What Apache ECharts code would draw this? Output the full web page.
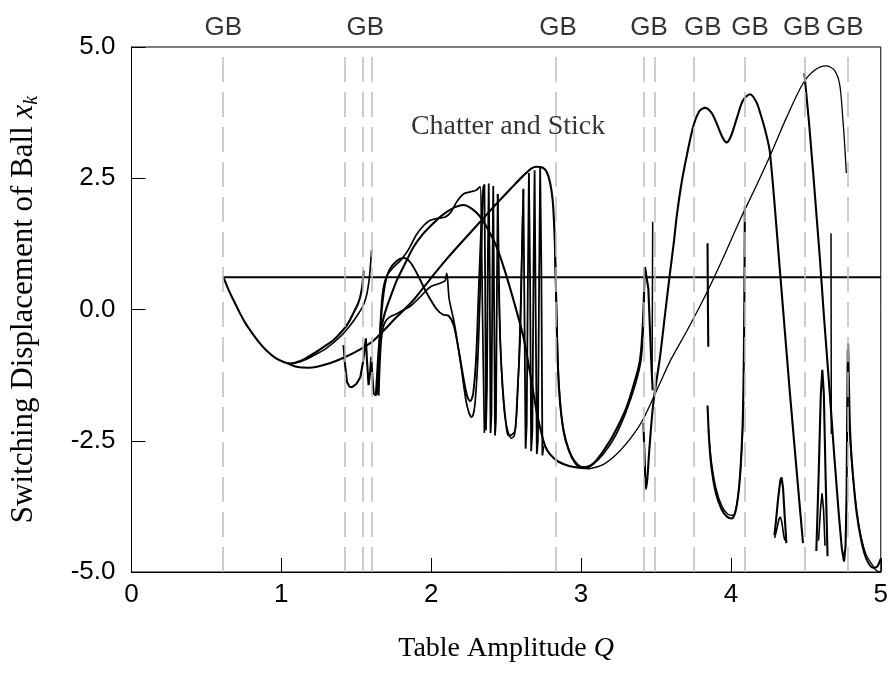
<!DOCTYPE html>
<html>
<head>
<meta charset="utf-8">
<script src="https://cdn.jsdelivr.net/npm/echarts@6/dist/echarts.min.js"></script>
<style>html,body{margin:0;padding:0;background:#fff}#c{width:891px;height:673px}</style>
</head>
<body>
<div id="c"></div>
<script>
// ---------- data ----------
const gbLineQ = [0.613, 1.415, 1.54, 1.602, 2.831, 3.418, 3.489, 3.751, 4.095, 4.491, 4.782];
const gbLabelQ = [0.613, 1.56, 2.847, 3.453, 3.813, 4.127, 4.473, 4.76];
const gbLabelText = 'GB';
const annotationText = 'Chatter and Stick';
const annotationPos = [2.513, 3.48];
const xTitle = 'Table Amplitude ';
const xTitleVar = 'Q';
const yTitle = 'Switching Displacement of Ball ';
const yTitleVar = 'x';
const yTitleSub = 'k';

const stickLine = [[0.613,0.616],[5.0,0.616]];
const parabolaUpperA = [[0.613,0.616],[0.65,0.36],[0.682,0.17],[0.72,-0.05],[0.76,-0.26],[0.793,-0.4],[0.85,-0.62],[0.904,-0.79],[0.96,-0.92],[1.016,-1.0],[1.06,-1.03],[1.127,-0.98],[1.18,-0.9],[1.238,-0.8],[1.3,-0.68],[1.349,-0.58],[1.415,-0.38],[1.45,-0.24],[1.482,-0.06],[1.51,0.1],[1.527,0.25],[1.54,0.45],[1.549,0.74]];
const parabolaUpperB = [[1.06,-1.03],[1.13,-0.99],[1.2,-0.9],[1.3,-0.74],[1.4,-0.5],[1.46,-0.3],[1.51,-0.1],[1.55,0.1],[1.571,0.3],[1.585,0.55],[1.595,0.85],[1.602,1.13]];
const mainBranch = [[1.04,-1.02],[1.1,-1.09],[1.18,-1.11],[1.238,-1.09],[1.327,-1.02],[1.415,-0.92],[1.52,-0.77],[1.616,-0.59],[1.771,-0.14],[1.882,0.18],[1.993,0.58],[2.1,0.95],[2.215,1.32],[2.33,1.68],[2.437,2.02],[2.53,2.3],[2.615,2.55],[2.67,2.69],[2.704,2.72],[2.745,2.7],[2.771,2.62],[2.793,2.42],[2.81,2.1],[2.82,1.64],[2.828,1.0],[2.834,0.2],[2.842,-0.8],[2.855,-1.6],[2.882,-2.3],[2.92,-2.7],[2.96,-2.92],[3.0,-3.0],[3.03,-3.0],[3.1,-2.88],[3.193,-2.5],[3.25,-2.2],[3.304,-1.86],[3.36,-1.35],[3.393,-0.97],[3.412,-0.3],[3.425,0.81]];
const mainBranchTwin = [[2.826,1.1],[2.832,0.4],[2.84,-0.5],[2.85,-1.3],[2.868,-2.0],[2.895,-2.45],[2.935,-2.78],[2.98,-2.96],[3.03,-3.02],[3.08,-2.95],[3.15,-2.75],[3.23,-2.4],[3.3,-1.95],[3.36,-1.45],[3.398,-1.0],[3.415,-0.4],[3.422,0.5]];
const impactSpikes1 = [[1.415,-0.68],[1.425,-1.05],[1.438,-1.38],[1.455,-1.47],[1.471,-1.48],[1.5,-1.42],[1.527,-1.29],[1.545,-1.0],[1.564,-0.55],[1.572,-1.0],[1.582,-1.44],[1.592,-1.2],[1.6,-0.9],[1.608,-1.3],[1.616,-1.6],[1.631,-1.64]];
const arcSmooth = [[1.631,-1.64],[1.64,-1.2],[1.65,-0.75],[1.66,-0.46],[1.68,-0.18],[1.704,0.05],[1.74,0.33],[1.771,0.56],[1.83,0.9],[1.882,1.19],[1.94,1.42],[1.993,1.58],[2.05,1.74],[2.104,1.86],[2.16,1.95],[2.216,1.99],[2.27,1.92],[2.326,1.77],[2.38,1.52],[2.437,1.19],[2.49,0.75],[2.549,0.18],[2.615,-0.52],[2.66,-1.22],[2.704,-1.95],[2.735,-2.35],[2.76,-2.6],[2.793,-2.76],[2.85,-2.9],[2.92,-2.98],[3.0,-3.02],[3.06,-3.03]];
const arcThin = [[3.06,-3.03],[3.15,-2.95],[3.25,-2.72],[3.35,-2.38],[3.416,-2.08],[3.527,-1.4],[3.6,-0.95],[3.704,-0.42],[3.837,0.31],[3.93,0.87],[4.06,1.70],[4.16,2.3],[4.26,2.92],[4.37,3.65],[4.48,4.3],[4.56,4.56],[4.636,4.64],[4.69,4.56],[4.725,4.3],[4.745,3.7],[4.76,3.1],[4.77,2.6]];
const arcWiggly = [[1.64,-1.62],[1.648,-1.0],[1.66,-0.3],[1.675,0.3],[1.7,0.62],[1.74,0.78],[1.8,0.95],[1.85,1.15],[1.9,1.42],[1.95,1.6],[1.993,1.7],[2.05,1.74],[2.093,1.76],[2.13,1.85],[2.17,2.05],[2.215,2.2],[2.26,2.24],[2.3,2.27],[2.326,2.34],[2.335,1.5],[2.342,0],[2.35,-1.5],[2.355,-2.35]];
const arcBump = [[1.645,-1.62],[1.652,-1.0],[1.665,-0.2],[1.69,0.45],[1.72,0.75],[1.771,0.93],[1.816,0.98],[1.86,0.9],[1.904,0.69],[1.971,0.31],[2.038,0.0],[2.08,-0.1],[2.116,-0.12],[2.15,-0.3],[2.185,-0.8],[2.215,-1.3],[2.24,-1.65],[2.26,-1.75],[2.28,-1.6],[2.3,-0.9],[2.315,0.2],[2.33,1.3],[2.345,2.2],[2.355,2.38]];
const arcLowS = [[1.65,-1.64],[1.658,-1.0],[1.67,-0.5],[1.69,-0.25],[1.72,-0.15],[1.771,-0.08],[1.82,0.0],[1.86,0.06],[1.927,0.24],[1.993,0.43],[2.06,0.5],[2.093,0.55],[2.104,0.69],[2.12,0.2],[2.15,-0.2],[2.171,-0.55],[2.2,-1.1],[2.23,-1.7],[2.25,-1.95],[2.27,-2.05],[2.29,-1.85],[2.31,-1.0],[2.325,0.2],[2.338,1.5],[2.348,2.35]];
const denseSpikes1 = [[2.355,2.38],[2.36,0.5],[2.365,-2.3],[2.372,-1.5],[2.378,1.0],[2.384,2.4],[2.39,0.8],[2.396,-2.35],[2.402,-2.0],[2.408,0.5],[2.414,2.35],[2.42,0.0],[2.426,-2.4],[2.432,-2.1],[2.438,0.2],[2.444,2.2]];
const valleyA = [[2.444,2.2],[2.45,1.0],[2.46,-0.59],[2.48,-1.6],[2.5,-2.2],[2.515,-2.4],[2.54,-2.38],[2.56,-2.3],[2.575,-1.6],[2.593,-0.59],[2.605,1.0],[2.615,2.28]];
const valleyB = [[2.45,0.5],[2.47,-1.2],[2.49,-2.0],[2.51,-2.3],[2.535,-2.45],[2.555,-2.4],[2.57,-2.0],[2.585,-1.0],[2.6,0.5],[2.61,1.8]];
const denseSpikes2 = [[2.615,2.3],[2.622,0],[2.63,-2.65],[2.637,-2.2],[2.645,0.5],[2.652,2.6],[2.66,0.5],[2.667,-2.7],[2.675,-2.3],[2.683,0.8],[2.69,2.65],[2.697,0],[2.705,-2.75],[2.712,-2.5],[2.72,0.5],[2.727,2.7],[2.735,0.8],[2.742,-2.78],[2.75,-2.6]];
const stubA = [[3.427,0.81],[3.438,0.6],[3.449,0.4],[3.46,-0.4],[3.47,-1.1],[3.478,-1.54]];
const stubB = [[3.474,-1.2],[3.476,0.2],[3.478,1.67]];
const doubleHump = [[3.416,-2.16],[3.425,-2.9],[3.433,-3.42],[3.443,-3.2],[3.455,-2.69],[3.482,-1.79],[3.527,-0.9],[3.56,-0.1],[3.593,0.69],[3.62,1.3],[3.638,1.77],[3.67,2.4],[3.704,2.91],[3.749,3.49],[3.79,3.78],[3.827,3.84],[3.87,3.75],[3.904,3.55],[3.94,3.3],[3.971,3.18],[4.0,3.3],[4.04,3.65],[4.08,3.98],[4.127,4.1],[4.17,3.95],[4.2,3.7],[4.23,3.4],[4.26,3.0],[4.326,0.78],[4.393,-1.57],[4.481,-4.45]];
const stubC = [[3.844,1.26],[3.846,0.3],[3.849,-0.71]];
const valleyC1 = [[3.844,-1.83],[3.855,-2.5],[3.87,-3.0],[3.9,-3.5],[3.94,-3.82],[3.975,-3.95],[4.005,-3.98],[4.03,-3.85],[4.05,-3.5],[4.065,-3.0],[4.078,-2.2],[4.085,-1.2],[4.09,0.3],[4.093,1.96]];
const valleyC2 = [[3.85,-2.3],[3.87,-2.9],[3.9,-3.4],[3.94,-3.75],[3.98,-3.9],[4.015,-3.92],[4.04,-3.7],[4.06,-3.2],[4.075,-2.5],[4.085,-1.75]];
const lambdaOuter = [[4.29,-4.3],[4.3,-4.05],[4.315,-3.6],[4.33,-3.25],[4.338,-3.2],[4.348,-3.4],[4.358,-3.9],[4.37,-4.45]];
const lambdaInner = [[4.292,-4.35],[4.305,-4.2],[4.32,-4.0],[4.33,-3.95],[4.34,-4.05],[4.352,-4.3],[4.36,-4.4]];
const steepBranch = [[4.49,4.5],[4.52,3.6],[4.549,2.6],[4.593,1.0],[4.62,-0.1],[4.659,-1.57],[4.69,-2.8],[4.72,-3.9],[4.74,-4.55],[4.755,-4.8],[4.765,-4.5],[4.772,-3.5],[4.776,-2.0],[4.78,-0.76]];
const stubD = [[4.668,1.45],[4.669,-0.5],[4.67,-2.37]];
const peakOuter = [[4.57,-4.6],[4.585,-3.2],[4.6,-1.6],[4.61,-1.15],[4.62,-1.6],[4.632,-3.2],[4.645,-4.7]];
const peakInner = [[4.585,-4.4],[4.598,-3.8],[4.608,-3.5],[4.618,-3.8],[4.628,-4.5]];
const tailA = [[4.782,-0.65],[4.788,-1.5],[4.795,-2.3],[4.81,-3.0],[4.838,-3.85],[4.87,-4.4],[4.904,-4.75],[4.95,-4.92],[4.975,-4.9],[5.0,-4.75]];
const tailB = [[4.79,-2.2],[4.805,-2.9],[4.83,-3.6],[4.86,-4.2],[4.9,-4.65],[4.94,-4.85],[4.97,-4.97],[5.0,-5.0]];

// ---------- chart ----------
const THICK = 2.1, THIN = 1.3;
function curve(data, width, smooth) {
  return {type:'line', data: data, symbol:'none', showSymbol:false, smooth: smooth ? 0.3 : false,
    silent:true, z:3, lineStyle:{color:'#000', width: width}};
}
const curves = [
  [stickLine, 2.0, false],
  [parabolaUpperA, THICK, true],
  [parabolaUpperB, 1.6, true],
  [mainBranch, THICK, true],
  [mainBranchTwin, 1.6, true],
  [impactSpikes1, THICK, false],
  [arcSmooth, THICK, true],
  [arcThin, THIN, true],
  [arcWiggly, 1.7, true],
  [arcBump, 1.9, true],
  [arcLowS, 1.7, true],
  [denseSpikes1, 1.8, false],
  [valleyA, 1.8, true],
  [valleyB, 1.5, true],
  [denseSpikes2, 1.8, false],
  [stubA, THICK, false],
  [stubB, 1.5, false],
  [doubleHump, THICK, true],
  [stubC, THICK, false],
  [valleyC1, THICK, true],
  [valleyC2, 1.4, true],
  [lambdaOuter, THICK, false],
  [lambdaInner, 1.6, false],
  [steepBranch, THICK, false],
  [stubD, 1.5, false],
  [peakOuter, THICK, false],
  [peakInner, 1.6, false],
  [tailA, THICK, true],
  [tailB, THIN, true]
];
const series = curves.map(c => curve(c[0], c[1], c[2]));

series.unshift({
  type:'line', data:[], silent:true, z:1,
  markLine:{silent:true, symbol:['none','none'], animation:false,
    label:{show:false},
    lineStyle:{color:'#bdbdbd', width:1.5, type:[25,10]},
    data: gbLineQ.map(q => ({xAxis:q}))}
});
series.push({
  type:'scatter', symbolSize:0, silent:true, z:5,
  data: gbLabelQ.map(q => [q, 5]),
  label:{show:true, position:'top', distance:6, formatter: gbLabelText,
    fontFamily:'Liberation Sans', fontSize:26, color:'#000'}
});
series.push({
  type:'scatter', symbolSize:0, silent:true, z:5,
  data:[annotationPos],
  label:{show:true, position:'inside', formatter: annotationText,
    fontFamily:'Liberation Serif', fontSize:28, color:'#000'}
});

const chart = echarts.init(document.getElementById('c'), null, {renderer:'canvas'});
chart.setOption({
  animation:false,
  backgroundColor:'#fff',
  grid:{left:131, right:10, top:47, bottom:101, show:true, borderColor:'#000', borderWidth:1},
  xAxis:{type:'value', min:0, max:5, interval:1,
    name:'{n|' + xTitle + '}{i|' + xTitleVar + '}', nameLocation:'middle', nameGap:63,
    nameTextStyle:{rich:{
      n:{fontFamily:'Liberation Serif', fontSize:28, color:'#000'},
      i:{fontFamily:'Liberation Serif', fontSize:28, fontStyle:'italic', color:'#000'}}},
    axisLine:{onZero:false, lineStyle:{color:'#000', width:1}},
    axisTick:{inside:true, length:14, lineStyle:{color:'#000'}},
    axisLabel:{fontFamily:'Liberation Sans', fontSize:26, color:'#000', margin:10},
    splitLine:{show:false}},
  yAxis:{type:'value', min:-5, max:5, interval:2.5,
    name:'{n|' + yTitle + '}{i|' + yTitleVar + '}{s|' + yTitleSub + '}', nameLocation:'middle', nameGap:90,
    nameTextStyle:{rich:{
      n:{fontFamily:'Liberation Serif', fontSize:31, color:'#000', lineHeight:36, verticalAlign:'middle'},
      i:{fontFamily:'Liberation Serif', fontSize:31, fontStyle:'italic', color:'#000', lineHeight:36, verticalAlign:'middle'},
      s:{fontFamily:'Liberation Serif', fontSize:20, fontStyle:'italic', color:'#000', lineHeight:20, verticalAlign:'bottom'}}},
    axisLine:{onZero:false, lineStyle:{color:'#000', width:1}},
    axisTick:{inside:true, length:14, lineStyle:{color:'#000'}},
    axisLabel:{fontFamily:'Liberation Sans', fontSize:26, color:'#000', margin:16,
      formatter: v => v.toFixed(1)},
    splitLine:{show:false}},
  series: series
});
</script>
</body>
</html>
